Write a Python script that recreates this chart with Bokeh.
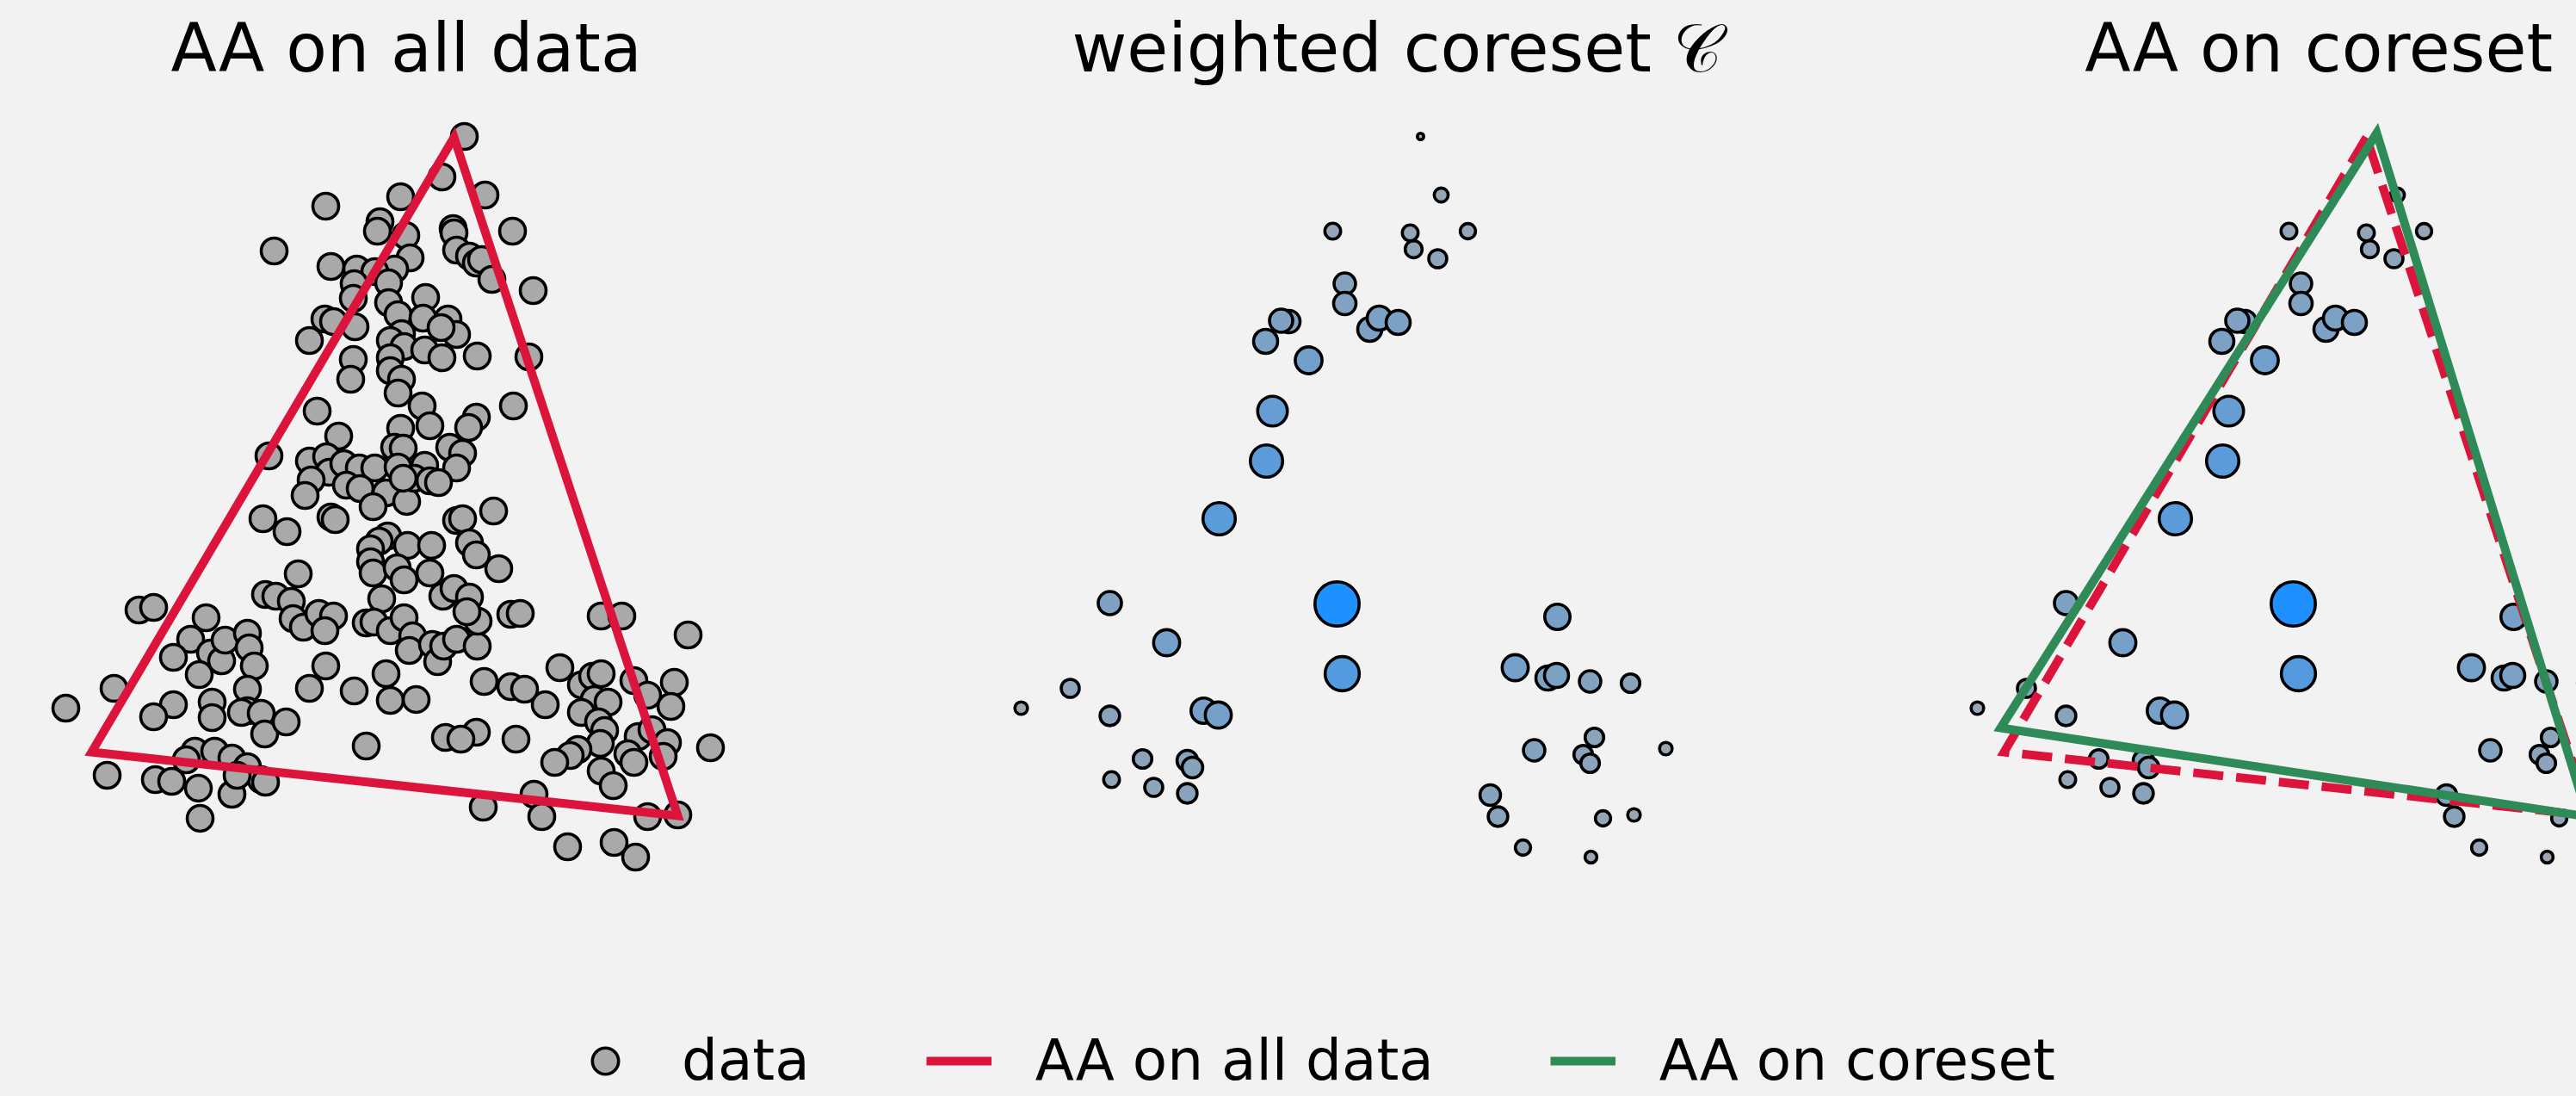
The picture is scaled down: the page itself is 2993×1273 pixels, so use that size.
import numpy as np
from bokeh.plotting import figure
from bokeh.models import Range1d, Label, Legend, LegendItem
from bokeh.layouts import row, column
from bokeh.embed import file_html
from bokeh.resources import INLINE

# ---------------- data ----------------
titles = ["AA on all data", "weighted coreset 𝒞", "AA on coreset"]
legend_labels = ["data", "AA on all data", "AA on coreset"]

data_x = [
    0.67, 0.41, -0.07, 0.91, -0.94, -0.31, -0.34, -0.01, 0.54, 0.55,
    1.23, -1.54, 0.04, 0.58, 0.73, 0.81, 0.87, 0.99, -0.88, -0.58,
    -0.14, -0.37, -0.21, -0.61, 1.47, -0.62, -0.21, 0.22, -0.10, 0.19,
    0.48, -0.95, -0.85, -0.60, -1.13, -0.06, -0.19, 0.58, 0.40, -0.03,
    0.21, 0.41, 0.82, 1.42, -0.62, -0.19,
    -0.65, -0.19, -0.06, -0.10, -1.04, 0.18, 0.27, 1.24, 0.81, 0.72,
    -0.79, -0.07, -0.14, -0.04, 0.50, 0.65, -1.60, -1.13, -0.93, -0.90,
    -0.73, -0.55, -0.37, -0.10, 0.21, 0.58, -1.11, -1.18, -0.70, -0.54,
    -0.24, 0.00, 0.09, 0.27, 0.37, -0.39, -1.67, -1.39, -0.88, -0.83,
    0.58, 0.65, 1.01, -0.22, -0.32, 0.01, 0.29, 0.73, 0.81, -0.42,
    -0.42, -0.39, -0.11, -0.03, 0.27, 1.07, -1.26, 0.42, 0.55, 0.73,
    -0.29, -1.64, -1.52, -1.34, -0.04,
    -3.11, -2.94, -2.33, -2.51, -2.71, -2.28, -2.15, -2.11, -1.85, -1.83,
    -1.77, -2.41, -3.40, -3.96, -2.71, -2.94, -2.26, -2.26, -1.85, -1.85,
    -1.92, -1.69, -1.65, -1.40, -1.32, -1.20, -1.02, -0.85, -0.95, -0.94,
    -1.13, -0.61, -0.47, -0.38, -0.19, -0.03, 0.07, 0.03, -0.24, -0.19,
    0.11, -0.47, 0.30, 0.36, 0.43, 0.58, 0.82, 0.83, 0.70, 1.21,
    1.32, 0.90, 1.21, 1.37, 1.61, 1.78, 0.81, 0.45, 0.63, 1.27,
    2.03, 2.16, 2.26, 2.18, 2.34, 2.03, 2.23, 2.30, 2.25, 1.99,
    1.90, 1.72, 2.26, 2.40, 2.64, 2.80, 3.11, 3.07, 3.27, 2.26,
    2.50, 2.69, 2.85, 3.03, 2.98, 2.57, 2.64, 3.53, 2.80, 3.15,
    1.48, 0.89, 1.57, 1.87, 2.41, 2.66, -3.48, -2.92, -2.73, -2.42,
    -2.03, -2.40, -2.46, -2.23, -2.03, -2.56, -1.85, -1.69, -1.64, -1.97,
]
data_y = [
    4.42, 3.95, 3.72, 3.74, 3.61, 3.43, 3.32, 3.27, 3.35, 3.30,
    3.32, 3.09, 3.01, 3.10, 3.03, 2.95, 2.99, 2.76, 2.91, 2.88,
    2.88, 2.85, 2.72, 2.71, 2.63, 2.54, 2.49, 2.55, 2.35, 2.31,
    2.30, 2.30, 2.27, 2.21, 2.05, 2.13, 2.05, 2.12, 2.20, 1.98,
    1.94, 1.85, 1.87, 1.86, 1.83, 1.85,
    1.60, 1.70, 1.60, 1.44, 1.23, 1.29, 1.06, 1.29, 1.16, 1.04,
    0.94, 1.03, 0.81, 0.80, 0.81, 0.74, 0.71, 0.65, 0.70, 0.52,
    0.62, 0.57, 0.57, 0.58, 0.60, 0.57, 0.43, 0.25, 0.37, 0.33,
    0.28, 0.18, 0.45, 0.42, 0.40, 0.12, -0.02, -0.17, 0.00, -0.03,
    -0.04, -0.02, 0.07, -0.22, -0.28, -0.33, -0.33, -0.30, -0.44, -0.37,
    -0.52, -0.65, -0.59, -0.73, -0.65, -0.60, -0.66, -0.92, -0.83, -0.93,
    -0.95, -0.90, -0.92, -0.98, 0.45,
    -1.08, -1.05, -1.17, -1.42, -1.63, -1.58, -1.67, -1.43, -1.35, -1.52,
    -1.73, -1.83, -1.99, -2.22, -2.18, -2.32, -2.15, -2.33, -2.00, -2.25,
    -2.27, -2.28, -2.52, -2.38, -1.18, -1.28, -1.12, -1.15, -1.32, -1.73,
    -1.99, -2.02, -1.23, -1.22, -1.32, -1.17, -1.38, -1.55, -1.82, -2.13,
    -2.12, -2.66, -1.48, -1.68, -1.50, -1.42, -1.50, -1.21, -1.10, -1.13,
    -1.12, -1.91, -1.97, -2.00, -2.18, -1.75, -2.50, -2.56, -2.58, -2.58,
    -1.95, -1.85, -1.82, -2.12, -2.15, -2.27, -2.38, -2.48, -2.63, -2.70,
    -2.77, -2.85, -2.95, -3.12, -1.90, -2.07, -1.92, -2.20, -1.37, -1.15,
    -1.15, -2.55, -2.47, -2.62, -2.78, -2.75, -2.85, -2.68, -3.48, -3.46,
    -3.22, -3.37, -3.48, -3.83, -3.78, -3.95, -3.00, -3.05, -3.07, -3.15,
    -3.22, -3.50, -2.72, -2.72, -2.80, -2.82, -2.90, -3.05, -3.08, -3.00,
]

core_x = [
    0.67, 0.91, -0.35, 0.55, 1.22, 0.59, 0.87, -0.21, -0.21, -0.86,
    -0.95, -1.13, 0.08, 0.19, 0.41, -0.63, -1.05, -1.12, -1.67, -0.30,
    -2.94, -2.28, -0.24, -3.40, -3.97, -2.94, -1.85, -1.68, 2.26, 1.77,
    2.15, 2.25, 2.64, 3.11, 1.99, 2.69, 2.56, 2.64, 3.52, -2.56,
    -2.04, -1.98, -2.92, -2.43, -2.04, 1.48, 1.57, 2.79, 3.15, 1.86,
    2.65,
]
core_y = [
    4.42, 3.74, 3.32, 3.30, 3.32, 3.11, 3.00, 2.71, 2.48, 2.27,
    2.28, 2.04, 2.18, 2.31, 2.26, 1.82, 1.23, 0.65, -0.02, -1.01,
    -1.00, -1.46, -1.82, -1.99, -2.22, -2.31, -2.25, -2.30, -1.16, -1.75,
    -1.87, -1.84, -1.91, -1.93, -2.71, -2.56, -2.76, -2.86, -2.69, -2.81,
    -2.83, -2.91, -3.05, -3.14, -3.21, -3.23, -3.48, -3.50, -3.46, -3.84,
    -3.95,
]
core_w = [
    0.04, 0.13, 0.16, 0.16, 0.15, 0.18, 0.20, 0.27, 0.29, 0.29,
    0.31, 0.33, 0.33, 0.33, 0.33, 0.40, 0.48, 0.56, 0.56, 1.00,
    0.31, 0.38, 0.62, 0.20, 0.11, 0.23, 0.36, 0.38, 0.36, 0.38,
    0.33, 0.33, 0.27, 0.21, 0.27, 0.21, 0.21, 0.21, 0.11, 0.21,
    0.25, 0.25, 0.16, 0.20, 0.23, 0.25, 0.23, 0.15, 0.11, 0.15,
    0.10,
]

# archetypes (triangle vertices)
aa_all_x = [0.55, -3.66, 3.15]
aa_all_y = [4.41, -2.73, -3.47]
aa_core_x = [0.67, -3.70, 3.12]
aa_core_y = [4.46, -2.45, -3.48]

# ---------------- style / layout ----------------
BG = "#f2f2f2"
FONT = "DejaVu Sans"
GRAY = "#a9a9a9"
CRIMSON = "#dc143c"
GREEN = "#2e8b57"
LW = 10
MLW = 3.6                       # marker outline width

PX = 100.0                      # screen px per data unit
H_TOP = 1140                    # height of the panel row
H_LEG = 132                     # height of the legend row
EDGES = [0, 935, 2230, 2993]    # page x of the panel boundaries
CENTERS = [472.0, 1583.0, 2694.0]
TITLE_CX = [471.6, 1622.5, 2693.6]
Y_TOP = 6.00

# coreset marker colour / size from weights
t = np.array(core_w) / max(core_w)
c_lo = np.array([169, 169, 169])
c_hi = np.array([30, 144, 255])
rgb = (1 - t)[:, None] * c_lo + t[:, None] * c_hi
core_colors = ["#%02x%02x%02x" % tuple(int(round(v)) for v in r) for r in rgb]
core_sizes = list(np.maximum(55 * np.sqrt(t) - MLW, 3))


def panel(i):
    x0 = (EDGES[i] - CENTERS[i]) / PX
    x1 = (EDGES[i + 1] - CENTERS[i]) / PX
    p = figure(width=EDGES[i + 1] - EDGES[i], height=H_TOP, title=None,
               x_range=Range1d(x0, x1),
               y_range=Range1d(Y_TOP - H_TOP / PX, Y_TOP),
               x_axis_location=None, y_axis_location=None,
               toolbar_location=None, min_border=0,
               outline_line_color=None, background_fill_color=BG,
               border_fill_color=BG, output_backend="svg")
    p.grid.visible = False
    p.add_layout(Label(x=TITLE_CX[i] - EDGES[i], y=H_TOP - 55,
                       x_units="screen", y_units="screen", text=titles[i],
                       text_font=FONT, text_font_size="78px",
                       text_align="center", text_baseline="alphabetic",
                       text_color="black"))
    return p


p1 = panel(0)
p1.scatter(data_x, data_y, size=30, fill_color=GRAY, line_color="black",
           line_width=MLW)
p1.patch(aa_all_x, aa_all_y, fill_color=None, line_color=CRIMSON,
         line_width=LW, line_join="miter")

p2 = panel(1)
p2.scatter(core_x, core_y, size=core_sizes, fill_color=core_colors,
           line_color="black", line_width=MLW)

p3 = panel(2)
p3.scatter(core_x, core_y, size=core_sizes, fill_color=core_colors,
           line_color="black", line_width=MLW)
p3.patch(aa_all_x, aa_all_y, fill_color=None, line_color=CRIMSON,
         line_width=LW, line_dash="35 15", line_join="miter")
p3.patch(aa_core_x, aa_core_y, fill_color=None, line_color=GREEN,
         line_width=LW, line_join="miter")

# legend row (proxy renderers carry no visible data)
pl = figure(width=EDGES[3] - EDGES[0], height=H_LEG, title=None,
            x_range=Range1d(0, 1), y_range=Range1d(0, 1),
            x_axis_location=None, y_axis_location=None,
            toolbar_location=None, min_border=0, outline_line_color=None,
            background_fill_color=BG, border_fill_color=BG,
            output_backend="svg")
pl.grid.visible = False
nan = np.array([np.nan])
r_data = pl.scatter(x=nan, y=nan, fill_color=GRAY, line_color="black",
                    line_width=MLW)
r_all = pl.line(x=nan, y=nan, line_color=CRIMSON, line_width=10)
r_core = pl.line(x=nan, y=nan, line_color=GREEN, line_width=10)
legend = Legend(items=[LegendItem(label=legend_labels[0], renderers=[r_data]),
                       LegendItem(label=legend_labels[1], renderers=[r_all]),
                       LegendItem(label=legend_labels[2], renderers=[r_core])],
                orientation="horizontal", location=(665, 2),
                glyph_width=76, glyph_height=76, label_height=74,
                label_standoff=51, spacing=135, padding=0, margin=0,
                border_line_color=None, background_fill_alpha=0,
                label_text_font=FONT, label_text_font_size="66px",
                label_text_color="black")
pl.add_layout(legend, "center")

layout = column(row(p1, p2, p3), pl)

html = file_html(layout, INLINE, title="AA coreset")
html = html.replace(
    "</head>",
    "<style>html,body{margin:0;padding:0;overflow:hidden;background:#f2f2f2;}</style></head>",
    1)
open("out.html", "w").write(html)
